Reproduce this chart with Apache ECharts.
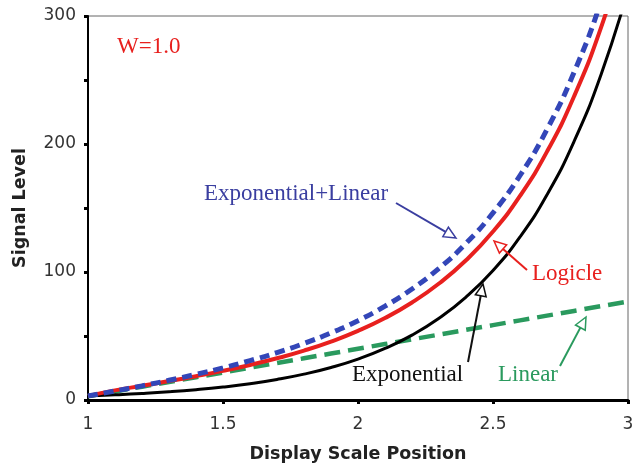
<!DOCTYPE html>
<html>
<head>
<meta charset="utf-8">
<script src="https://cdn.jsdelivr.net/npm/echarts@6/dist/echarts.min.js"></script>
<style>html,body{margin:0;padding:0;background:#fff}#c{width:633px;height:465px}</style>
</head>
<body>
<div id="c"></div>
<script>
const xs = [1.0,1.1,1.2,1.3,1.4,1.5,1.6,1.7,1.8,1.9,2.0,2.1,2.2,2.3,2.4,2.5,2.6,2.7,2.8,2.9,3.0];
const exponential = [3.2,4.03,5.07,6.38,8.04,10.12,12.74,16.04,20.19,25.42,32.0,40.29,50.72,63.85,80.38,101.19,127.4,160.38,201.91,254.19,320];
const logicle = [3.2,7.52,11.14,14.78,18.61,22.75,27.36,32.58,38.59,45.64,54.0,64.03,76.17,90.98,109.17,131.62,159.44,194.01,237.11,290.95,358.3];
const expLinear = [3.2,7.03,11.07,15.38,20.04,25.12,30.74,37.04,44.19,52.42,62.0,73.29,86.72,102.85,122.38,146.19,175.4,211.38,255.91,311.19,380];
const linear = [3,6.7,10.4,14.1,17.8,21.5,25.2,28.9,32.6,36.3,40,43.7,47.4,51.1,54.8,58.5,62.2,65.9,69.6,73.3,77];

const pair = arr => xs.map((x,i)=>[x,arr[i]]);
const serif = '"Liberation Serif","DejaVu Serif",serif';
const sans = '"DejaVu Sans",Verdana,sans-serif';

function arrow(x1,y1,x2,y2,color){
  const ang = Math.atan2(y2-y1,x2-x1);
  const L=12, W=5.5;
  const bx = x2 - L*Math.cos(ang), by = y2 - L*Math.sin(ang);
  const px = -Math.sin(ang), py = Math.cos(ang);
  return [
    {type:'line', shape:{x1:x1,y1:y1,x2:bx,y2:by}, style:{stroke:color,lineWidth:2}, z:100},
    {type:'polygon', shape:{points:[[x2,y2],[bx+px*W,by+py*W],[bx-px*W,by-py*W]]}, style:{fill:'#fff',stroke:color,lineWidth:1.5}, z:101}
  ];
}

const chart = echarts.init(document.getElementById('c'));
chart.setOption({
  animation:false,
  backgroundColor:'#fff',
  grid:{left:88,right:5,top:16,bottom:65,outerBoundsMode:'none',containLabel:false,show:true,borderColor:'#666',borderWidth:1,backgroundColor:'transparent'},
  xAxis:{type:'value',min:1,max:3,interval:0.5,
    name:'Display Scale Position',nameLocation:'middle',nameGap:45,
    nameTextStyle:{fontFamily:sans,fontWeight:'bold',fontSize:17.5,color:'#222'},
    axisLine:{show:true,lineStyle:{color:'#000',width:3}},
    axisTick:{show:true,length:4,lineStyle:{color:'#000',width:3}},
    axisLabel:{fontFamily:sans,fontSize:17,color:'#333',margin:16},
    splitLine:{show:false}},
  yAxis:{type:'value',min:0,max:300,interval:100,
    name:'Signal Level',nameLocation:'middle',nameGap:59,
    nameTextStyle:{fontFamily:sans,fontWeight:'bold',fontSize:17.5,color:'#222'},
    axisLine:{show:true,lineStyle:{color:'#000',width:2}},
    axisTick:{show:true,length:4,lineStyle:{color:'#000',width:3}},
    minorTick:{show:true,splitNumber:2,length:4,lineStyle:{color:'#000',width:3}},
    axisLabel:{fontFamily:sans,fontSize:17,color:'#333',margin:12},
    splitLine:{show:false}},
  series:[
    {name:'Linear',type:'line',data:pair(linear),showSymbol:false,smooth:false,
      lineStyle:{color:'#2a9a5e',width:4.5,type:[16,8]},z:2},
    {name:'Exponential',type:'line',data:pair(exponential),showSymbol:false,smooth:true,
      lineStyle:{color:'#000',width:3},z:3},
    {name:'Logicle',type:'line',data:pair(logicle),showSymbol:false,smooth:true,
      lineStyle:{color:'#e8201e',width:4},z:4},
    {name:'Exponential+Linear',type:'line',data:pair(expLinear),showSymbol:false,smooth:true,
      lineStyle:{color:'#3346b8',width:5,type:[10,6]},z:5}
  ],
  graphic:[
    {type:'text',left:117,top:35,style:{text:'W=1.0',font:'23px '+serif,fill:'#e8201e'},z:100},
    {type:'text',left:204,top:182,style:{text:'Exponential+Linear',font:'23px '+serif,fill:'#3a3ea0'},z:100},
    {type:'text',left:532,top:262,style:{text:'Logicle',font:'23px '+serif,fill:'#e8201e'},z:100},
    {type:'text',left:352,top:363,style:{text:'Exponential',font:'23px '+serif,fill:'#111'},z:100},
    {type:'text',left:498,top:363,style:{text:'Linear',font:'23px '+serif,fill:'#2a9a5e'},z:100},
    ...arrow(396,203,456,238,'#3a3ea0'),
    ...arrow(527,270,494,241,'#e8201e'),
    ...arrow(468,362,483,284,'#111'),
    ...arrow(560,366,586,317,'#2a9a5e')
  ]
});
</script>
</body>
</html>
